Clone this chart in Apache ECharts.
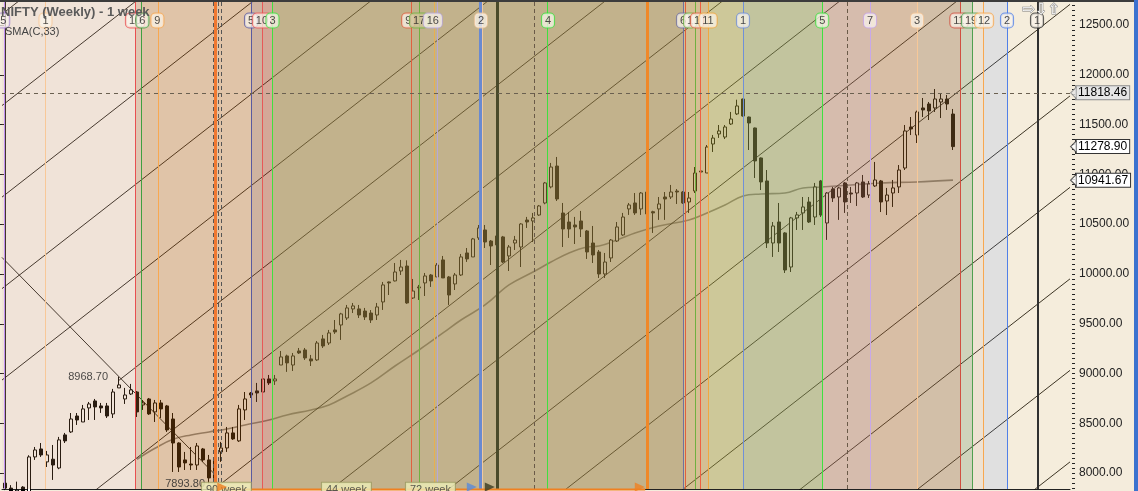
<!DOCTYPE html>
<html>
<head>
<meta charset="utf-8">
<title>NIFTY (Weekly) - 1 week</title>
<script src="https://cdn.jsdelivr.net/npm/echarts@6/dist/echarts.min.js"></script>
<style>
  html, body { margin: 0; padding: 0; background: #f4ecdc; }
  #chart { width: 1138px; height: 491px; }
</style>
</head>
<body>
<div id="chart"></div>
<script>
// weekly candles, one per slot (slot 0 = first visible week)
const opens = [
  7900, 7850, 7790, 7860, 7810, 8163, 8243, 8113, 8140, 8052,
  8384, 8414, 8574, 8514, 8655, 8725, 8675, 8675, 8595, 8856,
  8745, 8795, 8815, 8685, 8745, 8615, 8705, 8675, 8544, 8303,
  8133, 8092, 8082, 8243, 8133, 7930, 8213, 8253, 8404, 8324,
  8635, 8805, 8826, 8815, 8946, 8926, 9086, 9177, 9086, 9227,
  9237, 9147, 9137, 9348, 9307, 9438, 9488, 9558, 9649, 9649,
  9628, 9608, 9588, 9719, 9920, 9930, 10030, 10080, 9759, 9870,
  9910, 9990, 9970, 10141, 9970, 9900, 9990, 10211, 10171, 10362,
  10442, 10331, 10291, 10372, 10181, 10311, 10271, 10542, 10532, 10592,
  10713, 10874, 11084, 10612, 10522, 10492, 10532, 10432, 10311, 10221,
  10000, 10161, 10331, 10392, 10653, 10713, 10653, 10823, 10625, 10653,
  10773, 10773, 10833, 10823, 10723, 10833, 11024, 11014, 11305, 11406,
  11375, 11506, 11607, 11757, 11576, 11466, 11165, 10934, 10311, 10522,
  10412, 10070, 10563, 10613, 10723, 10572, 10934, 10512, 10853, 10773,
  10914, 10813, 10813, 10924, 10793, 10884, 10934, 10733, 10813, 10874,
  11064, 11476, 11395, 11667, 11707, 11667, 11727, 11757, 11606
];
const closes = [
  7850, 7790, 7830, 7800, 8163, 8233, 8183, 8183, 8082, 8334,
  8324, 8544, 8534, 8645, 8695, 8665, 8655, 8574, 8815, 8886,
  8785, 8836, 8615, 8705, 8595, 8705, 8645, 8434, 8303, 8062,
  8103, 8082, 8273, 8133, 7952, 8140, 8253, 8404, 8344, 8645,
  8745, 8785, 8805, 8946, 8906, 8946, 9167, 9107, 9177, 9207,
  9157, 9127, 9307, 9277, 9408, 9418, 9599, 9659, 9679, 9588,
  9568, 9538, 9669, 9890, 9910, 10020, 10070, 9709, 9829, 9860,
  9980, 9930, 10090, 9960, 9789, 9990, 10171, 10151, 10352, 10462,
  10321, 10281, 10382, 10120, 10271, 10341, 10502, 10522, 10563, 10683,
  10914, 11074, 10753, 10452, 10452, 10472, 10452, 10221, 10191, 10000,
  10120, 10341, 10472, 10572, 10693, 10613, 10813, 10603, 10613, 10703,
  10753, 10823, 10823, 10713, 10763, 11014, 11034, 11275, 11365, 11436,
  11476, 11556, 11687, 11586, 11516, 11135, 10924, 10311, 10482, 10311,
  10040, 10563, 10593, 10673, 10522, 10874, 10592, 10813, 10763, 10864,
  10723, 10803, 10914, 10773, 10904, 10944, 10723, 10793, 10864, 11044,
  11436, 11456, 11627, 11647, 11637, 11757, 11757, 11707, 11279
];
const lows = [
  7830, 7760, 7760, 7760, 7790, 8133, 8163, 8062, 7932, 8040,
  8303, 8404, 8484, 8514, 8534, 8534, 8605, 8554, 8554, 8856,
  8695, 8785, 8564, 8635, 8585, 8514, 8554, 8414, 8012, 8012,
  8032, 8032, 8032, 8113, 7893.8, 7900, 8113, 8213, 8334, 8314,
  8534, 8755, 8715, 8805, 8886, 8886, 9086, 9017, 9026, 9197,
  9137, 9076, 9127, 9257, 9287, 9398, 9338, 9538, 9608, 9558,
  9538, 9508, 9538, 9639, 9789, 9925, 9990, 9700, 9749, 9739,
  9779, 9870, 9970, 9960, 9689, 9839, 9980, 10121, 10171, 10342,
  10261, 10090, 10261, 10110, 10030, 10241, 10070, 10462, 10321, 10583,
  10700, 10860, 10733, 10271, 10362, 10301, 10371, 10151, 10110, 9960,
  9960, 10120, 10321, 10382, 10593, 10593, 10593, 10583, 10412, 10543,
  10543, 10753, 10703, 10703, 10613, 10813, 10924, 11014, 11225, 11366,
  11355, 11496, 11596, 11580, 11245, 10964, 10843, 10261, 10171, 10221,
  10010, 10020, 10442, 10442, 10512, 10492, 10572, 10342, 10723, 10543,
  10613, 10713, 10683, 10763, 10763, 10874, 10622, 10592, 10673, 10813,
  11044, 11395, 11315, 11576, 11546, 11627, 11566, 11647, 11245
];
const highs = [
  7925, 7880, 7915, 7870, 8180, 8263, 8303, 8223, 8283, 8364,
  8404, 8604, 8604, 8685, 8715, 8745, 8705, 8705, 8846, 8968.7,
  8856, 8896, 8825, 8735, 8755, 8735, 8735, 8685, 8604, 8310,
  8213, 8263, 8303, 8253, 8183, 8160, 8314, 8464, 8464, 8685,
  8815, 8815, 8906, 8986, 8986, 8986, 9227, 9190, 9207, 9257,
  9257, 9187, 9327, 9388, 9438, 9538, 9610, 9689, 9709, 9689,
  9659, 9638, 9709, 9920, 9925, 10110, 10141, 10137, 9950, 9890,
  10010, 10000, 10110, 10181, 9980, 10010, 10201, 10261, 10362, 10492,
  10492, 10341, 10412, 10382, 10291, 10382, 10510, 10573, 10613, 10693,
  10924, 11115, 11175, 10713, 10623, 10573, 10633, 10442, 10482, 10241,
  10211, 10351, 10522, 10613, 10713, 10813, 10823, 10843, 10635, 10773,
  10823, 10894, 10853, 10833, 10823, 11074, 11094, 11295, 11396, 11496,
  11496, 11627, 11750, 11760, 11580, 11470, 11170, 11044, 10522, 10713,
  10420, 10573, 10623, 10773, 10773, 10914, 10944, 10823, 10874, 10874,
  10924, 10874, 10924, 10994, 10934, 11125, 10944, 10864, 10944, 11094,
  11496, 11576, 11640, 11767, 11727, 11857, 11817, 11797, 11657
];

// SMA(C,33): [week slot, value]
const smaPoints = [
  [22, 8140], [25, 8250], [28, 8340], [31, 8384], [34, 8414], [37, 8444], [40, 8484],
  [44, 8534], [47, 8585], [51, 8635], [54, 8685], [57, 8775], [61, 8906], [65, 9076],
  [69, 9237], [73, 9408], [76, 9538], [80, 9689], [84, 9890], [88, 10020], [91, 10120],
  [94, 10211], [97, 10271], [99, 10281], [102, 10341], [105, 10412], [109, 10482],
  [114, 10543], [117, 10613], [120, 10693], [123, 10783], [126, 10803], [130, 10813],
  [133, 10864], [136, 10874], [141, 10894], [146, 10914], [152, 10924], [158, 10942]
];

const slotCount = 178;
const priceTicks = [8000, 8500, 9000, 9500, 10000, 10500, 11000, 11500, 12000, 12500];
const minorTicks = [];
for (let v = 7850; v <= 12750; v += 50) minorTicks.push(v);

// parallel rising lines: value at slot -0.5, slot where each starts, rise per week
const channelBase = [12609, 11691, 10772, 9853, 8935, 8016, 7097, 6178, 5260, 4341, 3422, 2504, 1585, 666, -253];
const channelFrom = [-0.5, -0.5, -0.5, -0.5, -0.5, 19, -0.5, -0.5, -0.5, -0.5, -0.5, -0.5, -0.5, -0.5, -0.5];
const channelRise = 47.0;
// falling line through the 8968.70 top
const fallLine = [[-0.5, 10166], [35, 7986]];

// marked price levels on the right axis
const levels = [11818.46, 11278.90, 10941.67];
const pivots = [[19, 8968.7], [34, 7893.8]];

// time cycle lines: slot, colour, width, dashed
const cycleLines = [
  [-0.1, '#c090f0', 1], [6.75, '#f8c898', 1], [21.67, '#e85050', 1], [22.75, '#40a040', 1],
  [25.58, '#f8a850', 1], [34.67, '#555555', 1, true], [35.1, '#f07830', 3], [35.55, '#555555', 1, true],
  [36.0, '#555555', 1, true], [41.0, '#5a5aa0', 1], [42.83, '#e85858', 1], [44.58, '#40e040', 1],
  [67.67, '#e06040', 1], [69.0, '#70b040', 1], [71.5, '#e8b050', 1], [72.08, '#b8a8d8', 1],
  [79.17, '#6a8ad0', 3], [79.5, '#f0c8a0', 1], [82.08, '#4a4a2a', 3], [88.17, '#6a5a48', 1, true],
  [90.43, '#40e040', 1], [107.0, '#f08828', 3], [113.08, '#7070a0', 1], [113.45, '#e06040', 1],
  [115.0, '#70b040', 1], [115.83, '#f06040', 1], [117.17, '#f0a840', 1], [123.0, '#7090d8', 1],
  [136.25, '#40e040', 1], [140.33, '#6a5a48', 1, true], [144.17, '#c8a8e8', 1], [152.0, '#f8c898', 1],
  [159.17, '#d05040', 1], [161.17, '#50a050', 1], [163.0, '#f8a850', 1], [167.0, '#5080e8', 1],
  [172.08, '#303030', 2]
];
// numbered tags along the top: text, slot, border colour
const cycleTags = [
  ['5', -0.3, '#a080d0'], ['1', 6.75, '#f8c898'], ['10', 21.67, '#e85050'], ['6', 22.9, '#40a040'],
  ['9', 25.4, '#f8a850'], ['5', 41.0, '#5a5aa0'], ['10', 42.83, '#e85858'], ['3', 44.58, '#40e040'],
  ['9', 67.2, '#e06040'], ['17', 69.0, '#70b040'], ['16', 71.3, '#b8a8d8'], ['2', 79.33, '#f0c8a0'],
  ['4', 90.5, '#40e040'], ['6', 113.0, '#7070a0'], ['1', 114.17, '#70b040'], ['1', 115.33, '#e06040'],
  ['11', 117.17, '#f0a840'], ['1', 123.0, '#7090d8'], ['5', 136.2, '#40e040'], ['7', 144.17, '#c8a8e8'],
  ['3', 152.0, '#f8c898'], ['11', 159.0, '#d05040'], ['19', 161.0, '#50a050'], ['12', 163.17, '#f8a850'],
  ['2', 167.0, '#5080e8'], ['1', 172.0, '#303030']
];
const weekBoxes = [['90 week', 36.9], ['44 week', 56.9], ['72 week', 70.9]];
const cycleArrows = [[36.2, '#f08020'], [77.8, '#5a8ad8'], [80.8, '#3a3a20'], [105.8, '#f08020']];

// coloured time zones laid over the price pane: from, to, colour, strength
const bands = [
  [-0.5, 21.67, '#f0e3d8', 0.22], [21.67, 22.75, '#dfc7b3', 0.35], [22.75, 41, '#e0c4a8', 0.36],
  [41, 42.83, '#cfb3a0', 0.45], [42.83, 44.58, '#d4a898', 0.45], [44.58, 113.08, '#c2b28c', 0.59],
  [113.08, 117.17, '#d4bf93', 0.5], [117.17, 123, '#cdc899', 0.5], [123, 136.25, '#c2c49e', 0.53],
  [136.25, 144.17, '#d6bcad', 0.46], [144.17, 152, '#d8bea5', 0.42], [152, 159.17, '#d2bfa8', 0.42],
  [159.17, 161.17, '#cfd3bb', 0.35], [161.17, 163, '#eee2d3', 0.2], [163, 167, '#e0e0e0', 0.25],
  [167, 177.5, '#f5eddc', 0.15]
];

const FONT = '"Liberation Sans", Arial, sans-serif';
const weeks = Array.from({ length: slotCount }, (_, i) => 'W' + (i + 1));

// colour that, laid over white at strength a, gives the wanted hex
function tint(hex, a) {
  const n = parseInt(hex.slice(1), 16);
  const c = [n >> 16, (n >> 8) & 255, n & 255]
    .map(v => Math.max(0, Math.min(255, Math.round((v - (1 - a) * 255) / a))));
  return 'rgba(' + c.join(',') + ',' + a + ')';
}

const chart = echarts.init(document.getElementById('chart'));

const series = [];

// channel lines
channelBase.forEach((p, k) => {
  const from = channelFrom[k];
  series.push({
    type: 'line', xAxisIndex: 1, yAxisIndex: 0, z: 1, silent: true,
    symbol: 'none',
    lineStyle: { color: '#000', width: 1, opacity: 0.85 },
    data: [[from, p + channelRise * (from + 0.5)], [177.5, p + channelRise * 178]]
  });
});
series.push({
  type: 'line', xAxisIndex: 1, yAxisIndex: 0, z: 1, silent: true, symbol: 'none',
  lineStyle: { color: '#000', width: 1, opacity: 0.85 },
  data: fallLine
});
series.push({
  name: 'SMA(C,33)', type: 'line', xAxisIndex: 1, yAxisIndex: 0, z: 2, silent: true,
  symbol: 'none', smooth: 0.4,
  lineStyle: { color: '#000', width: 1.6, opacity: 0.45 },
  data: smaPoints
});
series.push({
  name: 'NIFTY', type: 'candlestick', xAxisIndex: 0, yAxisIndex: 0, z: 2,
  barWidth: 4,
  itemStyle: { color: '#ffffff', color0: '#000000', borderColor: '#000000', borderColor0: '#000000', borderWidth: 1 },
  data: opens.map((o, i) => [o, closes[i], lows[i], highs[i]])
});
// time zones over the candles
series.push({
  type: 'line', xAxisIndex: 1, yAxisIndex: 0, data: [], silent: true,
  markArea: {
    z: 3, silent: true,
    data: bands.map(b => [{ xAxis: b[0], itemStyle: { color: tint(b[2], b[3]) } }, { xAxis: b[1] }])
  }
});
// cycle lines
series.push({
  type: 'line', xAxisIndex: 1, yAxisIndex: 0, data: [], silent: true,
  markLine: {
    z: 4, silent: true, symbol: ['none', 'none'], label: { show: false },
    data: cycleLines.map(c => ({
      xAxis: c[0],
      lineStyle: { color: c[1], width: c[2], type: c[3] ? [4, 3] : 'solid', opacity: 1 }
    }))
  }
});
// price levels with tags on the axis
series.push({
  type: 'line', xAxisIndex: 1, yAxisIndex: 0, data: [], silent: true,
  markLine: {
    z: 6, silent: true, symbol: ['none', 'none'],
    data: levels.map((v, i) => ({
      yAxis: v,
      lineStyle: i === 0
        ? { color: '#6a6050', width: 1, type: [4, 4] }
        : { color: 'rgba(0,0,0,0)', width: 1 },
      label: {
        show: true, position: 'end', distance: 6,
        formatter: () => v.toFixed(2),
        color: '#000', fontSize: 12, fontFamily: FONT,
        backgroundColor: i === 0 ? '#e6e6e6' : '#ffffff',
        borderColor: i === 0 ? '#8a8a8a' : '#333333', borderWidth: 1,
        padding: [1, 2, 0, 2]
      }
    }))
  }
});
// small pointers on the level tags
series.push({
  type: 'scatter', xAxisIndex: 1, yAxisIndex: 0, z: 7, silent: true, clip: false,
  symbol: 'triangle', symbolRotate: 90, symbolSize: [12, 6],
  data: levels.map((v, i) => ({
    value: [178.1, v],
    itemStyle: { color: i === 0 ? '#e6e6e6' : '#ffffff', borderColor: i === 0 ? '#8a8a8a' : '#333333', borderWidth: 1 }
  }))
});
// pivot values
series.push({
  type: 'scatter', xAxisIndex: 0, yAxisIndex: 0, z: 6, silent: true,
  symbolSize: 0,
  data: pivots.map((p, i) => ({
    value: p,
    label: {
      show: true, position: 'left', distance: i === 0 ? 11 : 4,
      formatter: () => p[1].toFixed(2),
      color: '#222', fontSize: 11, fontFamily: FONT
    }
  }))
});
// numbered tags at the top
series.push({
  type: 'scatter', xAxisIndex: 1, yAxisIndex: 0, z: 7, silent: true, clip: false,
  symbolSize: 0,
  data: cycleTags.map(t => ({
    value: [t[1], 12545],
    label: {
      show: true, position: 'inside', formatter: t[0],
      color: '#222', fontSize: 11, fontFamily: FONT,
      backgroundColor: t[0] === '17' ? '#cfc49a' : 'rgba(250,244,235,0.92)',
      borderColor: t[2], borderWidth: 1, borderRadius: 4,
      padding: [2, 3, 1, 3]
    }
  }))
});
// bottom: cycle span line, week boxes and arrows
series.push({
  type: 'line', xAxisIndex: 1, yAxisIndex: 0, z: 7, silent: true, clip: false,
  symbol: 'none', lineStyle: { color: '#f08020', width: 2 },
  data: [[34.7, 7836], [106.7, 7836]]
});
series.push({
  type: 'scatter', xAxisIndex: 1, yAxisIndex: 0, z: 7, silent: true, clip: false,
  symbolSize: 0,
  data: weekBoxes.map(w => ({
    value: [w[1], 7829],
    label: {
      show: true, position: 'inside', formatter: w[0],
      color: '#333', fontSize: 11, fontFamily: FONT,
      backgroundColor: '#eeeeb8', borderColor: '#9a9a60', borderWidth: 1,
      padding: [2, 4, 2, 4]
    }
  }))
});
series.push({
  type: 'scatter', xAxisIndex: 1, yAxisIndex: 0, z: 8, silent: true, clip: false,
  symbol: 'triangle', symbolRotate: -90, symbolSize: [9, 10],
  data: cycleArrows.map(a => ({ value: [a[0], 7860], itemStyle: { color: a[1] } }))
});

chart.setOption({
  animation: false,
  backgroundColor: '#f4ecdc',
  grid: { left: 2, right: 68, top: 0, bottom: 2, show: true, backgroundColor: '#ffffff', borderWidth: 0 },
  xAxis: [
    {
      type: 'category', data: weeks, boundaryGap: true,
      axisLine: { show: true, lineStyle: { color: '#222' } },
      axisTick: { show: false }, axisLabel: { show: false }, splitLine: { show: false }
    },
    { type: 'value', min: -0.5, max: 177.5, show: false }
  ],
  yAxis: [
    {
      type: 'value', position: 'right', offset: 5, min: 7841, max: 12751, scale: true,
      splitLine: { show: false },
      axisLine: { show: true, lineStyle: { color: '#222' } },
      axisTick: { show: true, inside: true, length: 7, customValues: priceTicks, lineStyle: { color: '#222' } },
      axisLabel: {
        customValues: priceTicks, formatter: v => v.toFixed(2),
        margin: 4, color: '#222', fontSize: 12, fontFamily: FONT
      }
    },
    {
      type: 'value', position: 'right', offset: 5, min: 7841, max: 12751, scale: true,
      splitLine: { show: false }, axisLine: { show: false }, axisLabel: { show: false },
      axisTick: { show: true, inside: true, length: 3, customValues: minorTicks, lineStyle: { color: '#222' } }
    }
  ],
  graphic: [
    { type: 'rect', z: 20, shape: { x: 0, y: 0, width: 1138, height: 2 }, style: { fill: '#3c3c3c' } },
    { type: 'rect', z: 20, shape: { x: 1134, y: 0, width: 4, height: 491 }, style: { fill: '#3b72cf' } },
    { type: 'text', z: 10, left: 1, top: 6, style: { text: 'NIFTY (Weekly) - 1 week', font: 'bold 13px ' + FONT, fill: '#5a5a5a' } },
    { type: 'text', z: 10, left: 5, top: 26, style: { text: 'SMA(C,33)', font: '11px ' + FONT, fill: '#444' } },
    { type: 'text', z: 10, left: 1022, top: 2, style: { text: '⇨⇩⇧', font: '15px "DejaVu Sans"', fill: '#ffffff', stroke: '#808080', lineWidth: 1 } }
  ],
  series: series
});
</script>
</body>
</html>
